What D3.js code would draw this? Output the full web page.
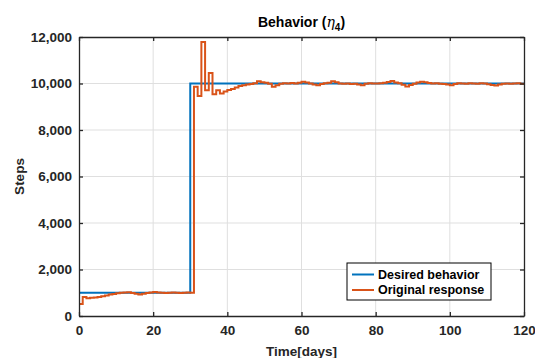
<!DOCTYPE html>
<html>
<head>
<meta charset="utf-8">
<script src="https://cdn.jsdelivr.net/npm/d3@7"></script>
<style>
  body { margin: 0; background: #fff; }
  svg { display: block; font-family: "Liberation Sans", Arial, sans-serif; }
</style>
</head>
<body>
<svg id="chart" width="535" height="358"></svg>
<script>
// desired behaviour: a step from 1,000 to 10,000 at day 30
const desiredDays = [0, 30, 120];
const desiredSteps = [1000, 10000, 10000];

// original response, one value per day (day 0 .. 120)
const responseSteps = [
  520, 820, 760, 780, 800, 820, 850, 880, 920, 950,
  980, 1000, 1010, 1020, 990, 960, 930, 960, 990, 1010,
  1030, 1010, 1000, 990, 1000, 1010, 1000, 990, 1000, 1010,
  1000, 9860, 9460, 11790, 9710, 10450, 9540, 9710, 9570, 9660,
  9720, 9760, 9830, 9890, 9930, 9960, 9980, 10010, 10100, 10050,
  10030, 9990, 9860, 9920, 9990, 10010, 10000, 10020, 10000, 10030,
  10080, 10040, 10000, 9960, 9930, 9980, 10010, 10030, 10100, 10050,
  10000, 9990, 10000, 9980, 9990, 9960, 9930, 9990, 10010, 10000,
  10000, 10010, 10030, 10060, 10110, 10040, 10010, 9950, 9870, 9940,
  9990, 10040, 10080, 10050, 10020, 10000, 10010, 9990, 9980, 9960,
  9930, 9980, 10010, 10000, 9990, 10010, 10000, 9990, 10010, 10000,
  9970, 9940, 9910, 9960, 9990, 10000, 9990, 10000, 10010, 9990,
  10020
];

const xTicks = [0, 20, 40, 60, 80, 100, 120];
const yTicks = [0, 2000, 4000, 6000, 8000, 10000, 12000];
const seriesNames = ["Desired behavior", "Original response"];
const seriesColors = ["#0072BD", "#D95319"];

const svg = d3.select("#chart");
const margin = { left: 79, right: 11, top: 37, bottom: 42 };
const width = 535 - margin.left - margin.right,
    height = 358 - margin.top - margin.bottom;

const x = d3.scaleLinear().domain([0, 120]).range([0, width]);
const y = d3.scaleLinear().domain([0, 12000]).range([height, 0]);

const g = svg.append("g").attr("transform", `translate(${margin.left},${margin.top})`);

// grid
g.append("g").selectAll("line").data(xTicks.slice(1, -1)).join("line")
    .attr("x1", d => x(d)).attr("x2", d => x(d))
    .attr("y1", 0).attr("y2", height)
    .attr("stroke", "#dfdfdf").attr("stroke-width", 1);
g.append("g").selectAll("line").data(yTicks.slice(1, -1)).join("line")
    .attr("y1", d => y(d)).attr("y2", d => y(d))
    .attr("x1", 0).attr("x2", width)
    .attr("stroke", "#dfdfdf").attr("stroke-width", 1);

// lines
const desired = desiredDays.map((d, i) => [d, desiredSteps[i]]);
const response = responseSteps.map((v, i) => [i, v]);

const line = d3.line()
    .x(d => x(d[0]))
    .y(d => y(d[1]))
    .curve(d3.curveStepAfter);

g.append("path").datum(desired)
    .attr("fill", "none").attr("stroke", seriesColors[0])
    .attr("stroke-width", 2).attr("d", line);
g.append("path").datum(response)
    .attr("fill", "none").attr("stroke", seriesColors[1])
    .attr("stroke-width", 2).attr("d", line);

// axes (box with inward ticks)
const axisColor = "#262626";
const tickFont = g => g.selectAll("text")
    .attr("font-size", "13.5px").attr("font-weight", "bold").attr("fill", "#262626");

g.append("g").attr("transform", `translate(0,${height})`)
    .call(d3.axisBottom(x).tickValues(xTicks).tickSizeInner(-4).tickSizeOuter(0).tickPadding(9))
    .call(a => a.select(".domain").attr("stroke", axisColor).attr("stroke-width", 1.3))
    .call(a => a.selectAll("line").attr("stroke", axisColor).attr("stroke-width", 1.3))
    .call(tickFont);

g.append("g")
    .call(d3.axisLeft(y).tickValues(yTicks).tickSizeInner(-4).tickSizeOuter(0).tickPadding(7)
        .tickFormat(d3.format(",")))
    .call(a => a.select(".domain").attr("stroke", axisColor).attr("stroke-width", 1.3))
    .call(a => a.selectAll("line").attr("stroke", axisColor).attr("stroke-width", 1.3))
    .call(tickFont);

g.append("g")
    .call(d3.axisTop(x).tickValues(xTicks).tickSizeInner(-4).tickSizeOuter(0).tickFormat(""))
    .call(a => a.select(".domain").attr("stroke", axisColor).attr("stroke-width", 1.3))
    .call(a => a.selectAll("line").attr("stroke", axisColor).attr("stroke-width", 1.3));

g.append("g").attr("transform", `translate(${width},0)`)
    .call(d3.axisRight(y).tickValues(yTicks).tickSizeInner(-4).tickSizeOuter(0).tickFormat(""))
    .call(a => a.select(".domain").attr("stroke", axisColor).attr("stroke-width", 1.3))
    .call(a => a.selectAll("line").attr("stroke", axisColor).attr("stroke-width", 1.3));

// labels
svg.append("text")
    .attr("x", margin.left + width / 2).attr("y", 356)
    .attr("text-anchor", "middle").attr("font-size", "13.5px").attr("font-weight", "bold")
    .attr("fill", "#262626").text("Time[days]");

svg.append("text")
    .attr("transform", `translate(24,${margin.top + height / 2}) rotate(-90)`)
    .attr("text-anchor", "middle").attr("font-size", "13.5px").attr("font-weight", "bold")
    .attr("fill", "#262626").text("Steps");

const title = svg.append("text")
    .attr("x", margin.left + width / 2).attr("y", 27)
    .attr("text-anchor", "middle").attr("font-size", "14px").attr("font-weight", "bold")
    .attr("fill", "#000");
title.append("tspan").text("Behavior (");
title.append("tspan").attr("font-style", "italic").attr("font-weight", "normal")
    .attr("font-family", "'DejaVu Serif', serif").text("η");
title.append("tspan").attr("dy", 4).attr("font-size", "10px").text("4");
title.append("tspan").attr("dy", -4).text(")");

// legend
const legend = svg.append("g").attr("transform", "translate(347,263)");
legend.append("rect")
    .attr("width", 144).attr("height", 37)
    .attr("fill", "#fff").attr("stroke", "#000").attr("stroke-width", 1);
seriesNames.forEach((name, i) => {
    const row = legend.append("g").attr("transform", `translate(0,${11.5 + i * 15.5})`);
    row.append("line").attr("x1", 5).attr("x2", 27)
        .attr("stroke", seriesColors[i]).attr("stroke-width", 2);
    row.append("text").attr("x", 31).attr("dy", "0.35em")
        .attr("font-size", "12.5px").attr("font-weight", "bold").attr("fill", "#000")
        .text(name);
});
</script>
</body>
</html>
